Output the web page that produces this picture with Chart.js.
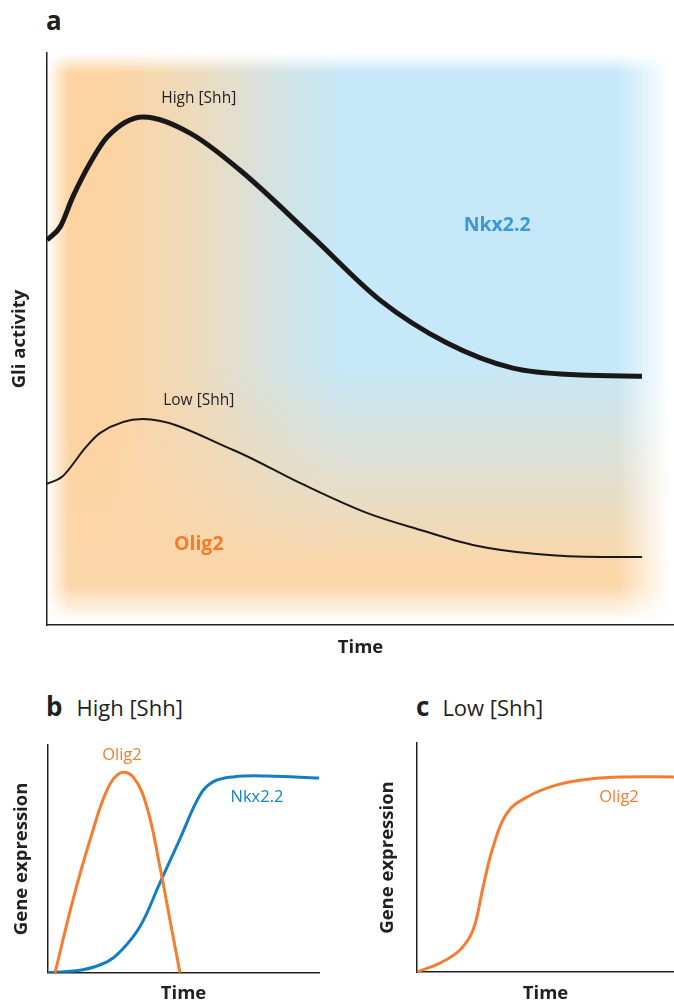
<!DOCTYPE html>
<html lang="en">
<head>
<meta charset="UTF-8">
<title>Gli activity and gene expression</title>
<style>
  body { margin: 0; background: #fff; font-family: "Open Sans", sans-serif; color: #231f20; }
  .page { position: relative; width: 674px; height: 1005px; overflow: hidden; }
  canvas { position: absolute; }
  .head { position: absolute; line-height: 26px; white-space: nowrap; }
  .letter { font-weight: bold; font-size: 26px; }
  .sub { font-size: 22px; }
</style>
</head>
<body>
<div class="page">
  <div class="head" style="left:46px;top:7px;"><span class="letter">a</span></div>
  <canvas id="chartA" width="674" height="665" style="left:0;top:0;"></canvas>

  <div class="head" style="left:46px;top:693px;"><span class="letter">b</span><span class="sub" style="margin-left:14px;">High [Shh]</span></div>
  <canvas id="chartB" width="340" height="325" style="left:0;top:680px;"></canvas>

  <div class="head" style="left:416px;top:693px;"><span class="letter">c</span><span class="sub" style="margin-left:13px;">Low [Shh]</span></div>
  <canvas id="chartC" width="334" height="325" style="left:340px;top:680px;"></canvas>
</div>

<script src="https://cdn.jsdelivr.net/npm/chart.js"></script>
<script>
// panel a: Gli activity over time (arbitrary units 0-100)
const timeHigh = [0, 2.1, 4.1, 6.9, 9.6, 15.3, 22.8, 30.8, 42.4, 53.1, 63.8, 74.3, 85.0, 94.9];
const gliHigh  = [67.3, 69.6, 74.8, 80.8, 85.3, 88.8, 86.0, 79.5, 67.8, 56.8, 49.3, 44.9, 43.7, 43.5];
const timeLow  = [0, 2.4, 6.2, 8.5, 15.3, 29.7, 40.4, 51.0, 59.6, 67.9, 78.1, 88.5, 94.9];
const gliLow   = [24.7, 25.9, 31.1, 33.6, 36.0, 30.6, 24.8, 19.6, 16.6, 14.0, 12.4, 11.9, 11.9];

// panel b: high [Shh]
const timeOligB = [2.6, 9.2, 15.5, 21.8, 26.6, 31.4, 36.5, 41.3, 45.0, 48.7];
const exprOligB = [0, 32.0, 58.3, 80.3, 87.7, 86.0, 72.8, 46.5, 23.2, 0];
const timeNkxB  = [0, 12.9, 21.8, 26.6, 33.9, 41.3, 48.7, 56.1, 60.9, 68.3, 80.8, 100];
const exprNkxB  = [0, 1.3, 4.8, 9.2, 20.2, 39.5, 58.8, 78.1, 83.8, 86.0, 86.4, 85.5];

// panel c: low [Shh]
const timeOligC = [0, 8.9, 16.7, 21.8, 25.7, 29.6, 35.0, 42.8, 54.5, 67.3, 80.2, 100];
const exprOligC = [0, 3.9, 9.6, 18.3, 37.1, 54.6, 69.4, 76.4, 81.7, 84.3, 85.2, 85.2];

// text labels inside the plots, in data units
const labelsA = [
  { text: 'High [Shh]', x: 24.2, y: 92.1, color: '#231f20', font: '15.5px "Open Sans"' },
  { text: 'Low [Shh]',  x: 24.2, y: 39.3, color: '#231f20', font: '15.5px "Open Sans"' },
  { text: 'Nkx2.2',     x: 71.8, y: 69.9, color: '#3a98d6', font: 'bold 19.5px "Open Sans"' },
  { text: 'Olig2',      x: 24.2, y: 14.0, color: '#f47a2c', font: 'bold 19.5px "Open Sans"' }
];
const labelsB = [
  { text: 'Olig2',  x: 27.3, y: 95.6, color: '#f47d30', font: '16.5px "Open Sans"' },
  { text: 'Nkx2.2', x: 77.1, y: 77.2, color: '#137ec2', font: '16.5px "Open Sans"' }
];
const labelsC = [
  { text: 'Olig2', x: 78.6, y: 76.4, color: '#f47d30', font: '16.5px "Open Sans"' }
];

const ORANGE = '#f47d30';
const BLUE = '#137ec2';
const AXIS = '#231f20';

function xy(xs, ys) {
  return xs.map((x, i) => ({ x: x, y: ys[i] }));
}

function textPlugin(labels) {
  return {
    id: 'innerText',
    afterDatasetsDraw(chart) {
      const ctx = chart.ctx;
      ctx.save();
      ctx.textAlign = 'center';
      ctx.textBaseline = 'middle';
      labels.forEach(l => {
        ctx.font = l.font;
        ctx.fillStyle = l.color;
        ctx.fillText(l.text, chart.scales.x.getPixelForValue(l.x), chart.scales.y.getPixelForValue(l.y));
      });
      ctx.restore();
    }
  };
}

// soft orange / blue field behind panel a
const fieldPlugin = {
  id: 'field',
  beforeDraw(chart) {
    const a = chart.chartArea;
    const w = Math.round(a.right - a.left), h = Math.round(a.bottom - a.top);
    const off = document.createElement('canvas');
    off.width = w; off.height = h;
    const c = off.getContext('2d');

    let g = c.createLinearGradient(0, 0, w, 0);
    g.addColorStop(0, '#fdd3a1');
    g.addColorStop(0.1, '#fdd3a1');
    g.addColorStop(0.25, '#ebdcc0');
    g.addColorStop(0.36, '#d4e2e0');
    g.addColorStop(0.47, '#c6e8f8');
    g.addColorStop(1, '#c6e8f8');
    c.fillStyle = g;
    c.fillRect(0, 0, w, h);

    g = c.createLinearGradient(0, 0, 0, h);
    g.addColorStop(0, 'rgba(251,214,168,0)');
    g.addColorStop(0.55, 'rgba(251,214,168,0)');
    g.addColorStop(0.75, 'rgba(251,214,168,0.55)');
    g.addColorStop(0.9, 'rgba(251,214,168,1)');
    g.addColorStop(1, 'rgba(251,214,168,1)');
    c.fillStyle = g;
    c.fillRect(0, 0, w, h);

    c.globalCompositeOperation = 'destination-in';
    g = c.createLinearGradient(0, 0, w, 0);
    g.addColorStop(0, 'rgba(0,0,0,0)');
    g.addColorStop(0.035, 'rgba(0,0,0,1)');
    g.addColorStop(0.91, 'rgba(0,0,0,1)');
    g.addColorStop(0.995, 'rgba(0,0,0,0)');
    c.fillStyle = g;
    c.fillRect(0, 0, w, h);
    g = c.createLinearGradient(0, 0, 0, h);
    g.addColorStop(0, 'rgba(0,0,0,0)');
    g.addColorStop(0.035, 'rgba(0,0,0,1)');
    g.addColorStop(0.93, 'rgba(0,0,0,1)');
    g.addColorStop(0.995, 'rgba(0,0,0,0)');
    c.fillStyle = g;
    c.fillRect(0, 0, w, h);

    chart.ctx.drawImage(off, a.left, a.top);
  }
};

function axisTitle(text, padTop, padBottom) {
  return {
    display: true,
    text: text,
    color: AXIS,
    font: { family: '"Open Sans"', size: 18.5, weight: 'bold', lineHeight: 1.2 },
    padding: { top: padTop, bottom: padBottom }
  };
}

function axis(title) {
  return {
    type: 'linear', min: 0, max: 100,
    ticks: { display: false },
    grid: { display: false, drawTicks: false },
    border: { display: true, color: AXIS, width: 1.5 },
    title: title
  };
}

function makeChart(id, datasets, xTitle, yTitle, padding, plugins) {
  return new Chart(document.getElementById(id), {
    type: 'line',
    data: { datasets: datasets },
    options: {
      responsive: false,
      animation: false,
      layout: { padding: padding },
      scales: { x: axis(xTitle), y: axis(yTitle) },
      plugins: { legend: { display: false }, tooltip: { enabled: false } },
      elements: { point: { radius: 0 } }
    },
    plugins: plugins
  });
}

// smooth: 'monotone' keeps peaks flat-topped without overshoot, otherwise bezier tension
function line(data, color, width, smooth) {
  const ds = {
    data: data, borderColor: color, borderWidth: width, fill: false,
    borderCapStyle: 'butt', borderJoinStyle: 'round'
  };
  if (smooth === 'monotone') ds.cubicInterpolationMode = 'monotone';
  else ds.tension = 0.4;
  return ds;
}

makeChart('chartA',
  [line(xy(timeHigh, gliHigh), '#1a1718', 5, 'monotone'), line(xy(timeLow, gliLow), '#1a1718', 2, 'monotone')],
  axisTitle('Time', 11.9, 5.9),
  axisTitle('Gli activity', 0.9, 15.9),
  { left: 8, right: 0, top: 53, bottom: 0 },
  [fieldPlugin, textPlugin(labelsA)]);

makeChart('chartB',
  [line(xy(timeOligB, exprOligB), ORANGE, 3), line(xy(timeNkxB, exprNkxB), BLUE, 3)],
  axisTitle('Time', 10, 0),
  axisTitle('Gene expression', 10.9, 14.9),
  { left: 0, right: 21, top: 65, bottom: 0 },
  [textPlugin(labelsB)]);

makeChart('chartC',
  [line(xy(timeOligC, exprOligC), ORANGE, 3)],
  axisTitle('Time', 10.8, 0),
  axisTitle('Gene expression', 10.9, 17.9),
  { left: 26, right: 0, top: 63, bottom: 0 },
  [textPlugin(labelsC)]);
</script>
</body>
</html>
